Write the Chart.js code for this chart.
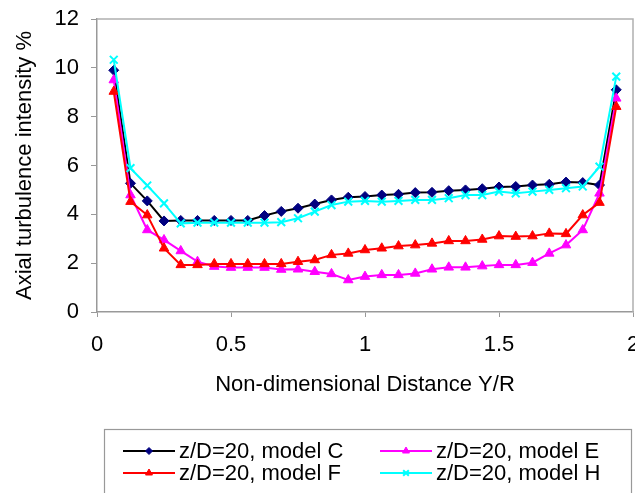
<!DOCTYPE html>
<html>
<head>
<meta charset="utf-8">
<script src="https://cdn.jsdelivr.net/npm/chart.js@4"></script>
<style>
  body { margin: 0; background: #fff; }
  #chart { display: block; }
</style>
</head>
<body>
<canvas id="chart" width="635" height="493"></canvas>
<script>
// Non-dimensional distance Y/R
const distance = [0.0625, 0.125, 0.1875, 0.25, 0.3125, 0.375, 0.4375, 0.5, 0.5625, 0.625,
  0.6875, 0.75, 0.8125, 0.875, 0.9375, 1, 1.0625, 1.125, 1.1875, 1.25, 1.3125, 1.375,
  1.4375, 1.5, 1.5625, 1.625, 1.6875, 1.75, 1.8125, 1.875, 1.9375];

// Axial turbulence intensity %
const modelC = [9.9, 5.27, 4.55, 3.73, 3.75, 3.75, 3.75, 3.75, 3.75, 3.95, 4.12, 4.25, 4.42,
  4.59, 4.7, 4.73, 4.79, 4.82, 4.89, 4.9, 4.97, 5.0, 5.05, 5.12, 5.14, 5.2, 5.23, 5.32, 5.3, 5.2, 9.1];
const modelE = [9.5, 4.79, 3.36, 2.95, 2.5, 2.06, 1.86, 1.82, 1.82, 1.82, 1.74, 1.75, 1.65,
  1.56, 1.31, 1.45, 1.52, 1.52, 1.58, 1.75, 1.83, 1.83, 1.88, 1.93, 1.93, 2.02, 2.4, 2.74, 3.36, 4.86, 8.75];
const modelF = [9.03, 4.52, 3.97, 2.61, 1.93, 1.93, 1.97, 1.97, 1.97, 1.97, 1.97, 2.06, 2.13,
  2.34, 2.4, 2.54, 2.61, 2.7, 2.74, 2.81, 2.91, 2.91, 2.97, 3.11, 3.09, 3.11, 3.22, 3.2, 3.97, 4.48, 8.41];
const modelH = [10.33, 5.89, 5.18, 4.45, 3.63, 3.66, 3.66, 3.66, 3.66, 3.66, 3.68, 3.84, 4.11,
  4.38, 4.52, 4.55, 4.52, 4.55, 4.59, 4.59, 4.66, 4.79, 4.79, 4.93, 4.86, 4.93, 5.0, 5.07, 5.14, 5.95, 9.64];

const xTicks = [0, 0.5, 1, 1.5, 2];
const yTicks = [0, 2, 4, 6, 8, 10, 12];

const FONT = '"Liberation Sans", Arial, sans-serif';

function points(ys) {
  return ys.map((y, i) => ({ x: distance[i], y: y }));
}

// grey frame on top and right of the plot area
const framePlugin = {
  id: 'frame',
  beforeDatasetsDraw(chart) {
    const { ctx, chartArea: a } = chart;
    ctx.save();
    ctx.strokeStyle = '#b0b0b0';
    ctx.lineWidth = 1.5;
    ctx.beginPath();
    ctx.moveTo(a.left, a.top);
    ctx.lineTo(a.right, a.top);
    ctx.lineTo(a.right, a.bottom);
    ctx.stroke();
    ctx.restore();
  }
};

// boxed legend, two columns, line + marker like the spreadsheet one
const boxLegend = {
  id: 'boxLegend',
  afterDraw(chart) {
    const ctx = chart.ctx;
    ctx.save();
    ctx.strokeStyle = '#999';
    ctx.lineWidth = 1.2;
    ctx.strokeRect(104.5, 429.5, 527, 80);
    const slots = [
      { x: 123, y: 451 }, { x: 380, y: 451 },
      { x: 123, y: 473 }, { x: 380, y: 473 }
    ];
    chart.data.datasets.forEach((ds, i) => {
      const s = slots[i];
      ctx.strokeStyle = ds.borderColor;
      ctx.lineWidth = 2;
      ctx.beginPath();
      ctx.moveTo(s.x, s.y);
      ctx.lineTo(s.x + 52, s.y);
      ctx.stroke();
      ctx.fillStyle = ds.pointBackgroundColor;
      ctx.strokeStyle = ds.pointBorderColor;
      ctx.lineWidth = ds.pointBorderWidth;
      Chart.helpers.drawPoint(ctx, {
        pointStyle: ds.pointStyle, radius: ds.pointRadius - 1.5, rotation: 0,
        borderWidth: ds.pointBorderWidth
      }, s.x + 26, s.y);
      ctx.fillStyle = '#000';
      ctx.font = '22px ' + FONT;
      ctx.textBaseline = 'middle';
      ctx.textAlign = 'left';
      ctx.fillText(ds.label, s.x + 56, s.y + 1);
    });
    ctx.restore();
  }
};

new Chart(document.getElementById('chart'), {
  type: 'scatter',
  data: {
    datasets: [
      {
        label: 'z/D=20, model C', data: points(modelC), order: 4,
        borderColor: '#000000', borderWidth: 2, showLine: true,
        pointStyle: 'rectRot', pointRadius: 5,
        pointBackgroundColor: '#000080', pointBorderColor: '#000080', pointBorderWidth: 1
      },
      {
        label: 'z/D=20, model E', data: points(modelE), order: 3,
        borderColor: '#ff00ff', borderWidth: 2, showLine: true,
        pointStyle: 'triangle', pointRadius: 5.5,
        pointBackgroundColor: '#ff00ff', pointBorderColor: '#ff00ff', pointBorderWidth: 1
      },
      {
        label: 'z/D=20, model F', data: points(modelF), order: 2,
        borderColor: '#ff0000', borderWidth: 2, showLine: true,
        pointStyle: 'triangle', pointRadius: 5.5,
        pointBackgroundColor: '#ff0000', pointBorderColor: '#ff0000', pointBorderWidth: 1
      },
      {
        label: 'z/D=20, model H', data: points(modelH), order: 1,
        borderColor: '#00ffff', borderWidth: 2, showLine: true,
        pointStyle: 'crossRot', pointRadius: 5.5,
        pointBackgroundColor: '#00ffff', pointBorderColor: '#00ffff', pointBorderWidth: 2
      }
    ]
  },
  options: {
    responsive: false,
    animation: false,
    layout: { autoPadding: false, padding: { top: 19, right: 2, left: 0, bottom: 0 } },
    plugins: {
      legend: { display: false },
      tooltip: { enabled: false }
    },
    scales: {
      x: {
        type: 'linear', min: 0, max: 2,
        afterFit: (scale) => {
          scale.height = 181;
          scale.paddingLeft = 0;
          scale.paddingRight = 0;
        },
        afterBuildTicks: (scale) => { scale.ticks = xTicks.map(v => ({ value: v })); },
        ticks: {
          color: '#000', font: { family: FONT, size: 22 }, padding: 15, maxRotation: 0,
          callback: (v) => String(v)
        },
        grid: { drawOnChartArea: false, tickLength: 5, color: '#999' },
        border: { color: '#999', width: 1.5 },
        title: {
          display: true, text: 'Non-dimensional Distance Y/R', color: '#000',
          font: { family: FONT, size: 22 }, padding: { top: 0, bottom: 95 }
        }
      },
      y: {
        min: 0, max: 12,
        afterFit: (scale) => {
          scale.width = 97;
          scale.paddingTop = 0;
          scale.paddingBottom = 0;
        },
        afterBuildTicks: (scale) => { scale.ticks = yTicks.map(v => ({ value: v })); },
        ticks: { color: '#000', font: { family: FONT, size: 22 }, padding: 12 },
        grid: { drawOnChartArea: false, tickLength: 6, color: '#999' },
        border: { color: '#999', width: 1.5 },
        title: {
          display: true, text: 'Axial turbulence intensity %', color: '#000',
          font: { family: FONT, size: 22 }, padding: { top: 12, bottom: 0 }
        }
      }
    }
  },
  plugins: [framePlugin, boxLegend]
});
</script>
</body>
</html>
